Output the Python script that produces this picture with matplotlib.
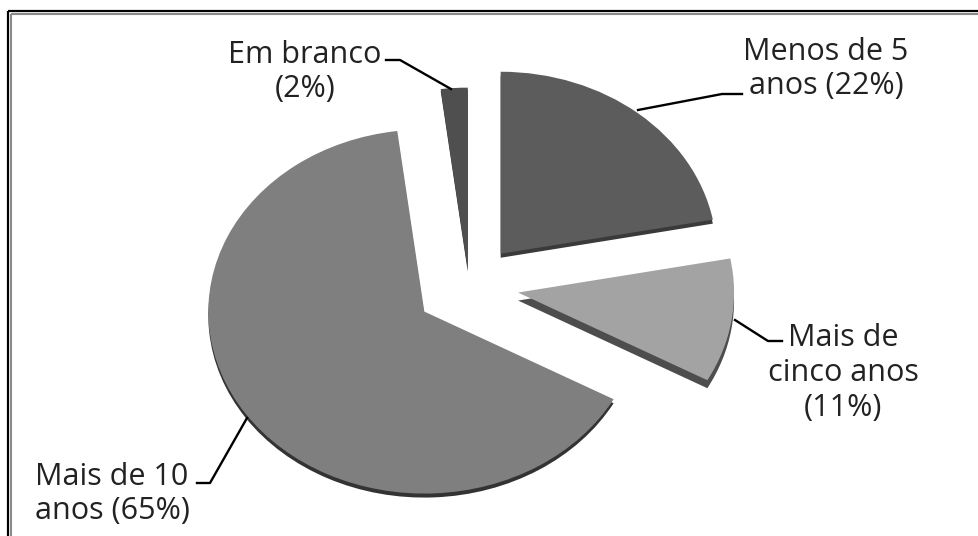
import matplotlib
matplotlib.use('Agg')
import matplotlib.pyplot as plt
from matplotlib.patches import Rectangle

# Tempo de servico
categorias = ['Menos de 5\nanos (22%)', 'Mais de\ncinco anos\n(11%)', 'Mais de 10\nanos (65%)', 'Em branco\n(2%)']
valores = [22, 11, 65, 2]
cores = ['#5c5c5c', '#a3a3a3', '#7f7f7f', '#4f4f4f']
cores_lado = ['#3a3a3a', '#4d4d4d', '#333333', '#333333']
afastamento = [0.23, 0.23, 0.25, 0.09]
profundidade = [4, 8, 4, 2]

W, H = 979, 536
# pie centre and ellipse radii in pixels
CX, CY, RX, RY = 469, 250, 216, 182

plt.rcParams['font.family'] = ['Open Sans', 'DejaVu Sans']
fig = plt.figure(figsize=(W / 100, H / 100), dpi=100, facecolor='white')

# pie axes, stretched so the circle reads as a tilted ellipse
k = 1.4
ax = fig.add_axes([(CX - k * RX) / W, (CY - k * RY) / H, 2 * k * RX / W, 2 * k * RY / H])
lados = ax.pie(valores, colors=cores_lado, explode=afastamento, startangle=90,
               counterclock=False, radius=1)[0]
for cunha, d in zip(lados, profundidade):
    cx, cy = cunha.center
    cunha.set_center((cx, cy - d / RY))
ax.pie(valores, colors=cores, explode=afastamento, startangle=90,
       counterclock=False, radius=1)
ax.set_aspect('auto')
ax.set_xlim(-k, k)
ax.set_ylim(-k, k)
ax.axis('off')

# overlay in pixel coordinates, y down, for frame, labels and leaders
ov = fig.add_axes([0, 0, 1, 1], facecolor='none')
ov.set_xlim(0, W)
ov.set_ylim(H, 0)
ov.axis('off')

ov.add_patch(Rectangle((8, 11), W + 10, H + 10, fill=False, ec='black', lw=1.6))
ov.add_patch(Rectangle((11, 14), W + 10, H + 10, fill=False, ec='#8a8a8a', lw=1.5))

pos_rotulos = [(826, 69), (843, 373), (112, 494), (305, 72)]
for nome, (x, y) in zip(categorias, pos_rotulos):
    ov.text(x, y, nome, ha='center', va='center', fontsize=22, color='#222222', linespacing=1.2)

lider_x = [[638, 722, 742], [735, 768, 782], [247, 210, 197], [451, 400, 386]]
lider_y = [[110, 94, 94], [320, 341, 341], [418, 483, 483], [89, 60, 60]]
for xs, ys in zip(lider_x, lider_y):
    ov.plot(xs, ys, color='black', lw=1.7)

fig.savefig('out.png', dpi=100)
